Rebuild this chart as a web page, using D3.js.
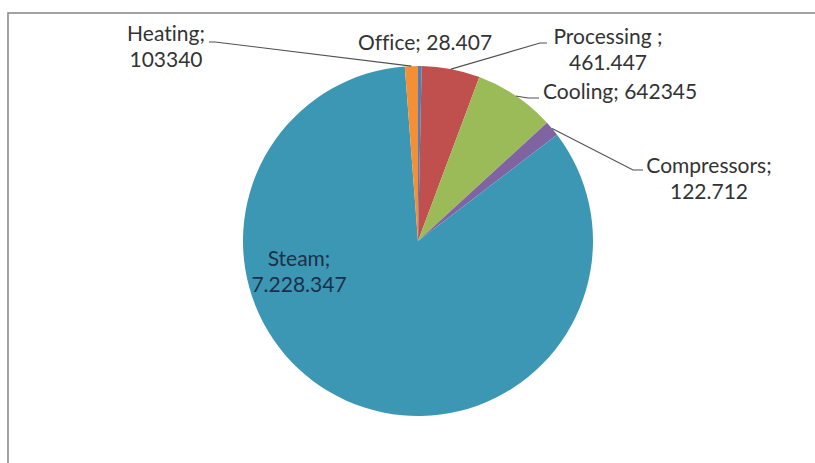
<!DOCTYPE html>
<html>
<head>
<meta charset="utf-8">
<script src="https://cdn.jsdelivr.net/npm/d3@7"></script>
<style>
  html, body { margin: 0; padding: 0; background: #ffffff; }
  svg { display: block; }
  text { font-family: Lato, "Open Sans", sans-serif; font-variant-ligatures: none; font-feature-settings: "liga" 0, "clig" 0; }
</style>
</head>
<body>
<svg id="chart" width="815" height="463"></svg>
<script>
// Energy use by department
const categories = ["Office", "Processing", "Cooling", "Compressors", "Steam", "Heating"];
const values     = [28407, 461447, 642345, 122712, 7228347, 103340];
const valueText  = ["28.407", "461.447", "642345", "122.712", "7.228.347", "103340"];
const colors     = ["#4a7fc0", "#c0504d", "#9bbb59", "#8064a2", "#3c97b5", "#f39035"];

// Label lines (text per line), anchor point, and leader bends
const labelLayout = {
  Office:      { lines: ["Office; 28.407"], x: 425, y: 50, anchor: "middle", inside: false, leader: null },
  Processing:  { lines: ["Processing ;", "461.447"], x: 608, y: 44, anchor: "middle", leader: [[540, 43], [547, 43]] },
  Cooling:     { lines: ["Cooling; 642345"], x: 543, y: 99, anchor: "start", leader: [[528, 98], [539, 98]] },
  Compressors: { lines: ["Compressors;", "122.712"], x: 709, y: 173, anchor: "middle", leader: [[633, 170], [643, 170]] },
  Steam:       { lines: ["Steam;", "7.228.347"], x: 299, y: 266, anchor: "middle", inside: true, leader: null },
  Heating:     { lines: ["Heating;", "103340"], x: 166, y: 41, anchor: "middle", leader: [[215, 42], [209, 42]] }
};

const W = 815, H = 463;
const cx = 418, cy = 241, R = 175;

const svg = d3.select("#chart");

// chart area frame
svg.append("rect")
  .attr("x", 8).attr("y", 13)
  .attr("width", W + 10).attr("height", H + 10)
  .attr("fill", "#ffffff")
  .attr("stroke", "#8c8c8c")
  .attr("stroke-width", 1.6);

const data = categories.map((c, i) => ({ name: c, value: values[i], text: valueText[i], color: colors[i] }));

const pie = d3.pie().value(d => d.value).sort(null);
const arcs = pie(data);
const arc = d3.arc().innerRadius(0).outerRadius(R);
const edge = d3.arc().innerRadius(R).outerRadius(R);

const g = svg.append("g").attr("transform", `translate(${cx},${cy})`);

g.selectAll("path.slice")
  .data(arcs)
  .join("path")
  .attr("class", "slice")
  .attr("d", arc)
  .attr("fill", d => d.data.color);

// leader lines from slice edge to the label
const line = d3.line();
arcs.forEach(a => {
  const L = labelLayout[a.data.name];
  if (!L.leader) return;
  const p = edge.centroid(a);
  const pts = [[p[0] + cx, p[1] + cy]].concat(L.leader);
  svg.append("path")
    .attr("d", line(pts))
    .attr("fill", "none")
    .attr("stroke", "#505050")
    .attr("stroke-width", 1.1);
});

// labels
arcs.forEach(a => {
  const L = labelLayout[a.data.name];
  const t = svg.append("text")
    .attr("x", L.x).attr("y", L.y)
    .attr("text-anchor", L.anchor)
    .attr("font-size", 21)
    .attr("fill", L.inside ? "#1b3048" : "#333333");
  L.lines.forEach((s, i) => {
    t.append("tspan")
      .attr("x", L.x)
      .attr("dy", i === 0 ? 0 : 26)
      .text(s);
  });
});
</script>
</body>
</html>
